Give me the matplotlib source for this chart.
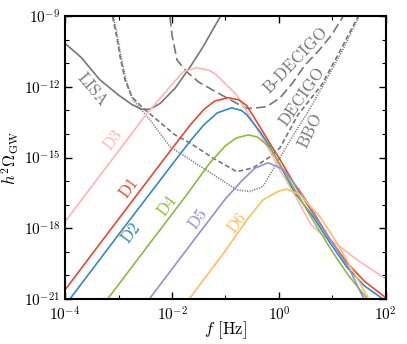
import matplotlib
matplotlib.use("Agg")
from matplotlib import pyplot as plt
import numpy as np

plt.rcParams['font.family'] = 'serif'
plt.rcParams['font.serif'] = ['cmr10']
plt.rcParams['mathtext.fontset'] = 'cm'
plt.rcParams['axes.formatter.use_mathtext'] = True
plt.rcParams['lines.scale_dashes'] = False

# curves, as (log10 f, log10 h^2 Omega)
lisa_logf = [-4, -3.7, -3.35, -3.0, -2.75, -2.57, -2.41, -2.22, -1.94, -1.66, -1.42, -1.10]
lisa_logo = [-10.16, -10.75, -11.7, -12.35, -12.75, -12.95, -12.95, -12.7, -12.05, -11.15, -10.3, -9.03]

bdecigo_logf = [-2.04, -2.0, -1.907, -1.72, -1.5, -1.234, -0.79, -0.604, -0.486, -0.23, 0.019, 0.25, 0.486, 0.75, 0.985, 1.196]
bdecigo_logo = [-9.03, -9.8, -10.86, -11.37, -11.8, -12.14, -12.7, -12.91, -12.91, -12.84, -12.47, -11.85, -11.08, -10.45, -9.8, -9.03]

decigo_logf = [-3.112, -3.034, -2.972, -2.879, -2.753, -2.542, -1.944, -1.664, -1.234, -0.79, -0.486, -0.168, 0.019, 0.355, 0.798, 1.103, 1.477]
decigo_logo = [-9.03, -9.88, -10.72, -11.71, -12.42, -12.9, -14.04, -14.38, -15.02, -15.6, -15.44, -14.97, -14.59, -13.19, -11.92, -10.65, -9.03]

bbo_logf = [-3.093, -3.019, -2.953, -2.86, -2.729, -2.411, -2.037, -1.421, -0.79, -0.542, -0.299, -0.043, 0.237, 0.542, 0.86, 1.172, 1.495]
bbo_logo = [-9.03, -9.88, -10.72, -11.71, -12.56, -13.41, -14.54, -15.44, -16.37, -16.44, -16.23, -15.24, -14.17, -13.07, -11.8, -10.53, -9.03]

d1_logf = [-4, -3, -2, -1.66, -1.4, -1.2, -0.95, -0.75, -0.6, -0.355, -0.168, 0.05, 0.36, 0.636, 0.95, 1.27, 1.6, 2.0]
d1_logo = [-20.61, -17.61, -14.62, -13.62, -12.95, -12.6, -12.46, -12.55, -12.8, -13.7, -14.4, -15.2, -16.4, -17.35, -18.45, -19.45, -20.25, -20.95]

d2_logf = [-4, -3, -2, -1.66, -1.4, -1.15, -0.885, -0.7, -0.6, -0.355, -0.168, 0.05, 0.3, 0.636, 0.95, 1.27, 1.6, 1.92, 2.0]
d2_logo = [-21.27, -18.27, -15.3, -14.3, -13.6, -13.1, -12.89, -13.0, -13.19, -13.9, -14.54, -15.45, -16.5, -17.5, -18.6, -19.65, -20.45, -20.96, -21.1]

d3_logf = [-4, -3, -2.5, -2.04, -1.79, -1.54, -1.3, -1.165, -0.79, -0.486, -0.23, 0.0, 0.3, 0.6, 0.85, 1.14, 1.5, 2.0]
d3_logo = [-17.72, -14.72, -13.22, -12.0, -11.36, -11.19, -11.3, -11.5, -12.35, -13.48, -14.47, -15.45, -16.6, -17.85, -18.35, -18.78, -19.4, -20.15]

d4_logf = [-3.3, -2.5, -1.725, -1.29, -1.0, -0.8, -0.574, -0.4, -0.293, -0.168, 0.05, 0.36, 0.7, 1.0, 1.3, 1.64, 1.7]
d4_logo = [-21.29, -18.89, -16.58, -15.22, -14.5, -14.17, -14.04, -14.13, -14.33, -14.6, -15.4, -16.6, -17.9, -19.0, -20.0, -20.96, -21.2]

d5_logf = [-2.5, -1.5, -1.0, -0.7, -0.45, -0.2, 0.08, 0.39, 0.7, 0.953, 1.3, 1.58, 1.65]
d5_logo = [-21.23, -18.23, -16.75, -16.0, -15.45, -15.22, -15.5, -16.4, -17.5, -18.45, -19.65, -20.96, -21.3]

d6_logf = [-1.7, -1.0, -0.6, -0.3, 0.0, 0.144, 0.393, 0.766, 1.078, 1.39, 1.67, 1.72]
d6_logo = [-21.07, -18.95, -17.65, -16.8, -16.42, -16.34, -16.58, -17.5, -18.6, -19.83, -20.96, -21.2]

grey = '#777777'
fig = plt.figure(figsize=(4.07, 3.44), dpi=100)
ax = fig.add_axes([0.160, 0.131, 0.788, 0.822])


def draw(lf, lo, **kw):
    ax.plot(10 ** np.array(lf), 10 ** np.array(lo), **kw)


draw(lisa_logf, lisa_logo, color=grey, lw=1.2)
draw(bdecigo_logf, bdecigo_logo, color=grey, lw=1.2, dashes=[7, 3])
draw(decigo_logf, decigo_logo, color=grey, lw=1.2, dashes=[3.5, 2])
draw(bbo_logf, bbo_logo, color=grey, lw=1.2, dashes=[0.8, 1.0])

draw(d3_logf, d3_logo, color='#FFB5B8', lw=1.2)
draw(d1_logf, d1_logo, color='#E24A33', lw=1.2)
draw(d2_logf, d2_logo, color='#348ABD', lw=1.2)
draw(d4_logf, d4_logo, color='#8EBA42', lw=1.2)
draw(d5_logf, d5_logo, color='#988ED5', lw=1.2)
draw(d6_logf, d6_logo, color='#FBC15E', lw=1.2)

# labels
fs = 12
ax.text(10 ** -3.5, 10 ** -12.13, 'LISA', color=grey, rotation=-50, fontsize=fs, ha='center', va='center')
ax.text(10 ** 0.318, 10 ** -10.86, 'B-DECIGO', color=grey, rotation=46, fontsize=fs, ha='center', va='center')
ax.text(10 ** 0.43, 10 ** -12.43, 'DECIGO', color=grey, rotation=55, fontsize=fs, ha='center', va='center')
ax.text(10 ** 0.58, 10 ** -13.87, 'BBO', color=grey, rotation=64, fontsize=fs, ha='center', va='center')
ax.text(10 ** -3.1, 10 ** -14.25, 'D3', color='#FFB5B8', rotation=53, fontsize=fs, ha='center', va='center')
ax.text(10 ** -2.8, 10 ** -16.29, 'D1', color='#E24A33', rotation=53, fontsize=fs, ha='center', va='center')
ax.text(10 ** -2.77, 10 ** -18.2, 'D2', color='#348ABD', rotation=53, fontsize=fs, ha='center', va='center')
ax.text(10 ** -2.1, 10 ** -17.05, 'D4', color='#8EBA42', rotation=53, fontsize=fs, ha='center', va='center')
ax.text(10 ** -1.51, 10 ** -17.6, 'D5', color='#988ED5', rotation=53, fontsize=fs, ha='center', va='center')
ax.text(10 ** -0.785, 10 ** -17.77, 'D6', color='#FBC15E', rotation=53, fontsize=fs, ha='center', va='center')

ax.set_xscale('log')
ax.set_yscale('log')
ax.set_xlim(1e-4, 1e2)
ax.set_ylim(1e-21, 1e-9)
ax.set_xticks([1e-4, 1e-2, 1e0, 1e2])
ax.set_yticks([1e-21, 1e-18, 1e-15, 1e-12, 1e-9])
ax.xaxis.set_minor_locator(matplotlib.ticker.LogLocator(base=10, subs=[1.0], numticks=20))
ax.yaxis.set_minor_locator(matplotlib.ticker.LogLocator(base=10, subs=[1.0], numticks=30))
ax.xaxis.set_minor_formatter(matplotlib.ticker.NullFormatter())
ax.yaxis.set_minor_formatter(matplotlib.ticker.NullFormatter())
ax.tick_params(which='both', direction='in', top=True, right=True, labelsize=11)
ax.tick_params(which='major', length=5, width=1.0)
ax.tick_params(which='minor', length=3, width=0.8)
ax.tick_params(axis='x', which='major', pad=5)
for s in ax.spines.values():
    s.set_linewidth(1.5)

ax.set_xlabel(r'$f$ [Hz]', fontsize=12)
ax.set_ylabel(r'$h^2\Omega_{\rm GW}$', fontsize=12)
ax.xaxis.set_label_coords(0.5, -0.072)
ax.yaxis.set_label_coords(-0.138, 0.5)

fig.savefig('out.png', dpi=100)
